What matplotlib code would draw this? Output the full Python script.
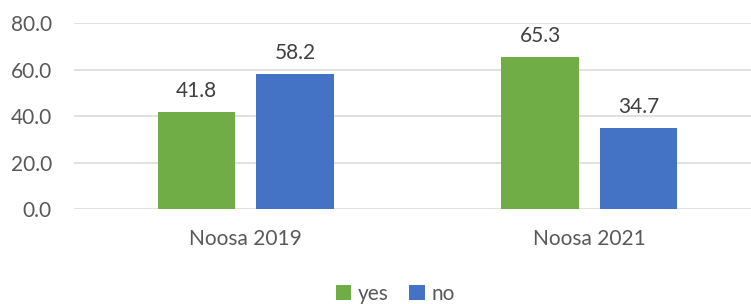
import numpy as np
import matplotlib
matplotlib.use("Agg")
import matplotlib.pyplot as plt

plt.rcParams['font.family'] = ['Lato', 'DejaVu Sans']

categories = ["Noosa 2019", "Noosa 2021"]
yes_vals = [41.8, 65.3]
no_vals = [58.2, 34.7]
y_ticks = [0, 20, 40, 60, 80]

green = "#70AD47"
blue = "#4472C4"
text_grey = "#595959"

fig = plt.figure(figsize=(7.51, 3.04), dpi=100)
# plot area runs a little past the right edge, like the cropped original
ax = fig.add_axes([74 / 751, 94.7 / 304, 687 / 751, 186.3 / 304])

x = np.arange(len(categories))
width = 0.225
offset = 0.143

bars_yes = ax.bar(x - offset, yes_vals, width, color=green, label="yes", zorder=3)
bars_no = ax.bar(x + offset, no_vals, width, color=blue, label="no", zorder=3)

for bars in (bars_yes, bars_no):
    for b in bars:
        h = b.get_height()
        ax.annotate(f"{h:.1f}", (b.get_x() + b.get_width() / 2, h),
                    xytext=(0, 8), textcoords="offset points",
                    ha="center", va="bottom", fontsize=15, color="#404040")

ax.set_xlim(-0.5, 1.5)
ax.set_ylim(0, 80)
ax.set_yticks(y_ticks)
ax.set_yticklabels([f"{v:.1f}" for v in y_ticks])
ax.set_xticks(x)
ax.set_xticklabels(categories)
ax.tick_params(axis="both", length=0, labelsize=15, labelcolor=text_grey)
ax.tick_params(axis="y", pad=16)
ax.tick_params(axis="x", pad=14)

ax.grid(axis="y", color="#D9D9D9", linewidth=1.1, zorder=0)
ax.set_axisbelow(True)
for s in ax.spines.values():
    s.set_visible(False)

fig.legend(handles=[bars_yes, bars_no], labels=["yes", "no"],
           loc="center", bbox_to_anchor=(395 / 751, 10 / 304), ncol=2,
           frameon=False, fontsize=15, labelcolor=text_grey,
           handlelength=0.75, handleheight=0.75, handletextpad=0.3,
           columnspacing=1.0, borderaxespad=0, borderpad=0)

fig.savefig("out.png", dpi=100)
